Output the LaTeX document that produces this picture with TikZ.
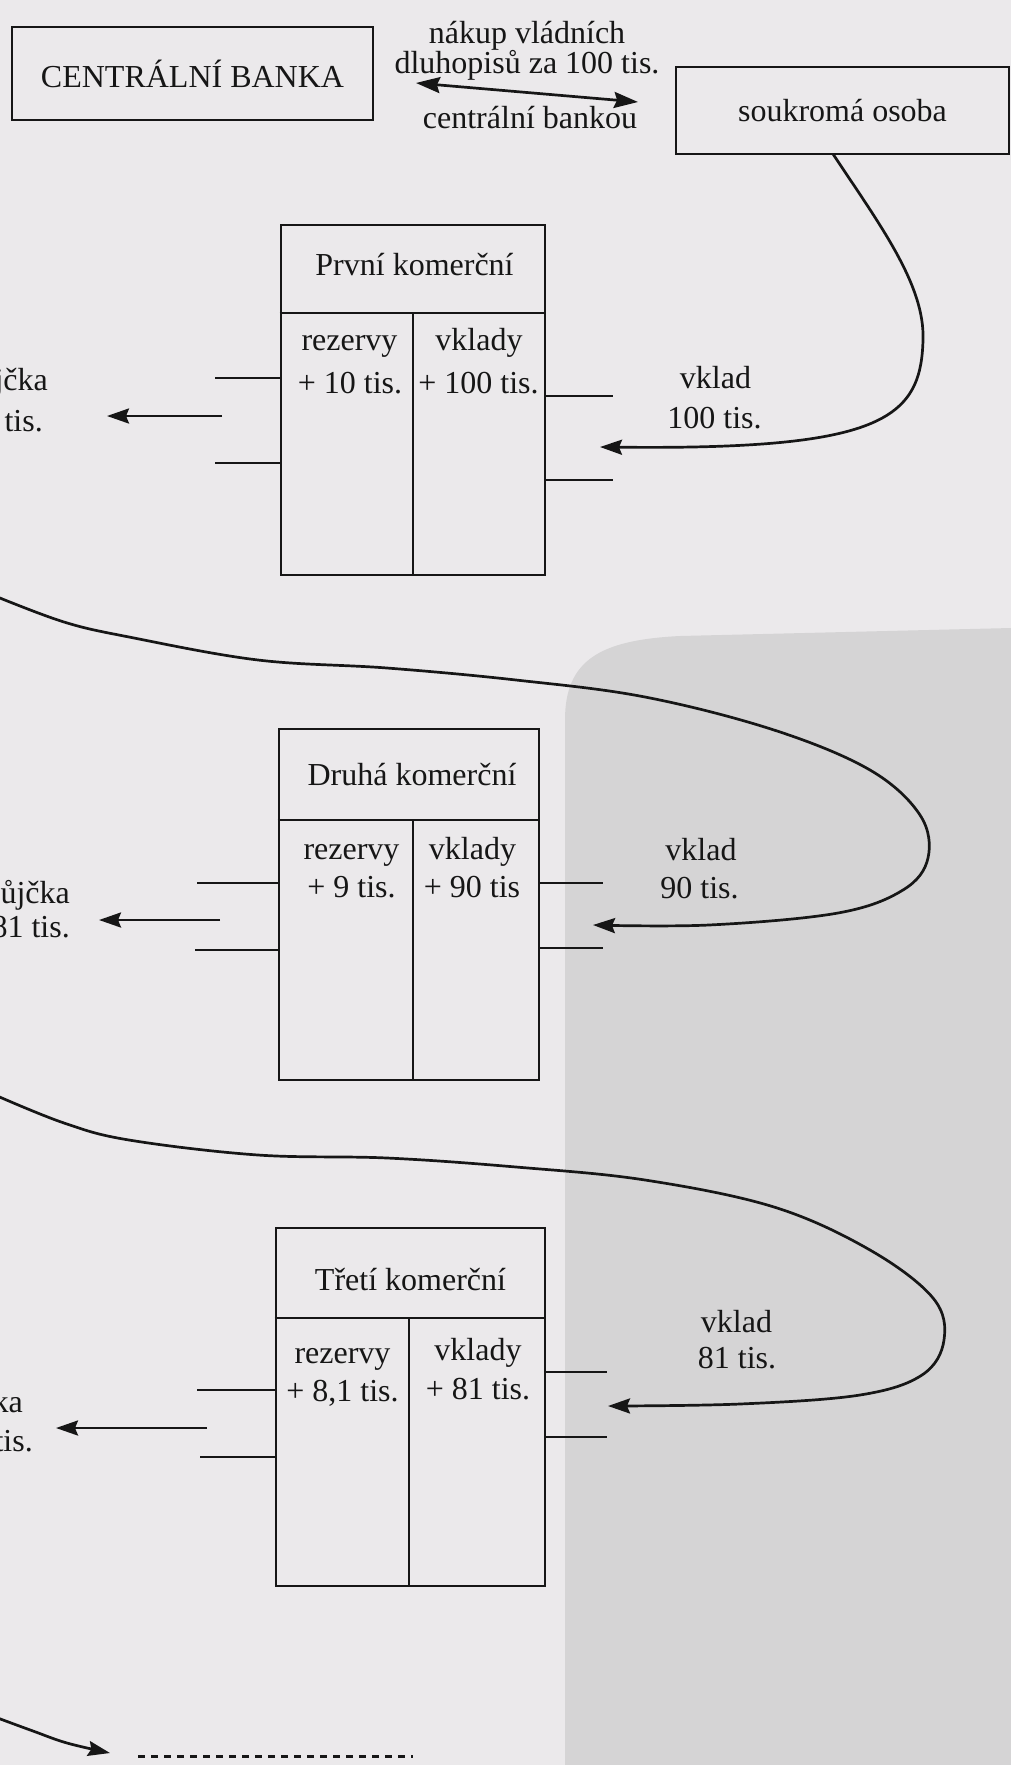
\documentclass[tikz,border=0pt]{standalone}
\usepackage{fontspec}
\setmainfont{Liberation Serif}
\usetikzlibrary{arrows.meta}
\definecolor{paper}{RGB}{235,233,235}
\definecolor{shadowc}{RGB}{213,212,213}
\definecolor{ink}{RGB}{22,22,22}
\begin{document}
\begin{tikzpicture}[x=1pt,y=-1pt,
  bankbox/.style={draw=ink,line width=2.8pt,rectangle,inner sep=0pt},
  boxline/.style={draw=ink,line width=2.8pt},
  lbl/.style={text=ink,inner sep=0pt,font=\fontsize{32}{40}\selectfont},
  tickln/.style={draw=ink,line width=2.7pt},
  arr/.style={draw=ink,line width=2.7pt,-{Stealth[length=22pt,width=15pt,inset=3pt]}},
  darr/.style={draw=ink,line width=2.7pt,{Stealth[length=24pt,width=16pt,inset=3pt]}-{Stealth[length=24pt,width=16pt,inset=3pt]}},
  dots/.style={draw=ink,line width=3pt,dash pattern=on 7pt off 6pt}
]
\useasboundingbox (0,0) rectangle (1011,1765);
\clip (0,0) rectangle (1011,1765);
\fill[paper] (0,0) rectangle (1011,1765);
\fill[shadowc] (565,1765) -- (565,720) .. controls (565,660) and (600,640) .. (680,636) -- (1011,628) -- (1011,1765) -- cycle;

% top row
\node[bankbox,lbl,minimum width=361pt,minimum height=93pt] (cb) at (192.5,73.5) {CENTRÁLNÍ BANKA};
\node[bankbox,lbl,minimum width=333pt,minimum height=87pt] (so) at (842.5,110.5) {soukromá osoba};
\node[lbl,anchor=base] (t1) at (527,43) {nákup vládních};
\node[lbl,anchor=base] (t2) at (527,73) {dluhopisů za 100 tis.};
\node[lbl,anchor=base] (t3) at (530,128) {centrální bankou};
\coordinate (da1) at (416,83);
\coordinate (da2) at (638,102);
\draw[darr] (da1) -- (da2);

% ---------- first bank ----------
\node[bankbox,minimum width=264pt,minimum height=350pt] (b1) at (413,400) {};
\coordinate (b1h) at (413,313);
\draw[boxline] (b1.west |- b1h) -- (b1.east |- b1h);
\draw[boxline] (b1h) -- (b1h |- b1.south);
\node[lbl,anchor=base] (n1) at (414.5,275) {První komerční};
\node[lbl,anchor=base] (r1a) at (349.5,350) {rezervy};
\node[lbl,anchor=base] (r1b) at (350,393) {+ 10 tis.};
\node[lbl,anchor=base] (v1a) at (479,350) {vklady};
\node[lbl,anchor=base] (v1b) at (478.5,393) {+ 100 tis.};
\coordinate (l1a) at (215,378);
\coordinate (l1b) at (215,463);
\draw[tickln] (l1a) -- (b1.west |- l1a);
\draw[tickln] (l1b) -- (b1.west |- l1b);
\coordinate (l1s) at (222,416);
\coordinate (l1e) at (107,416);
\draw[arr] (l1s) -- (l1e);
\coordinate (r1x) at (613,396);
\coordinate (r1y) at (613,480);
\draw[tickln] (b1.east |- r1x) -- (r1x);
\draw[tickln] (b1.east |- r1y) -- (r1y);
\node[lbl,anchor=base] (k1a) at (715.5,388) {vklad};
\node[lbl,anchor=base] (k1b) at (714.5,428) {100 tis.};
\node[lbl,anchor=base east] (p1a) at (48,390) {jčka};
\node[lbl,anchor=base east] (p1b) at (43,431) {tis.};
\coordinate (c1s) at (833,154);
\coordinate (c1m) at (923,340);
\coordinate (c1e) at (600,447);
\draw[arr] (c1s) .. controls (880,225) and (925,285) .. (c1m) .. controls (921,420) and (880,450) .. (c1e);

% ---------- second bank ----------
\node[bankbox,minimum width=260pt,minimum height=351pt] (b2) at (409,904.5) {};
\coordinate (b2h) at (413,820);
\draw[boxline] (b2.west |- b2h) -- (b2.east |- b2h);
\draw[boxline] (b2h) -- (b2h |- b2.south);
\node[lbl,anchor=base] (n2) at (412,785) {Druhá komerční};
\node[lbl,anchor=base] (r2a) at (351.5,859) {rezervy};
\node[lbl,anchor=base] (r2b) at (351.5,897) {+ 9 tis.};
\node[lbl,anchor=base] (v2a) at (472.5,859) {vklady};
\node[lbl,anchor=base] (v2b) at (472,897) {+ 90 tis};
\coordinate (l2a) at (197,883);
\coordinate (l2b) at (195,950);
\draw[tickln] (l2a) -- (b2.west |- l2a);
\draw[tickln] (l2b) -- (b2.west |- l2b);
\coordinate (l2s) at (220,920);
\coordinate (l2e) at (99,920);
\draw[arr] (l2s) -- (l2e);
\coordinate (r2x) at (603,883);
\coordinate (r2y) at (603,948);
\draw[tickln] (b2.east |- r2x) -- (r2x);
\draw[tickln] (b2.east |- r2y) -- (r2y);
\node[lbl,anchor=base] (k2a) at (701,860) {vklad};
\node[lbl,anchor=base] (k2b) at (699.5,898) {90 tis.};
\node[lbl,anchor=base east] (p2a) at (70,903) {půjčka};
\node[lbl,anchor=base east] (p2b) at (70,937) {81 tis.};
\coordinate (c2s) at (-5,596);
\coordinate (c2e) at (593,925);
\draw[arr] plot[smooth,tension=0.6] coordinates {(c2s) (64,622) (129,637) (258,660) (387,668) (516,680) (645,697) (774,730) (870,770) (920,815) (928,858) (903,890) (838,913) (709,925) (c2e)};

% ---------- third bank ----------
\node[bankbox,minimum width=269pt,minimum height=358pt] (b3) at (410.5,1407) {};
\coordinate (b3h) at (409,1318);
\draw[boxline] (b3.west |- b3h) -- (b3.east |- b3h);
\draw[boxline] (b3h) -- (b3h |- b3.south);
\node[lbl,anchor=base] (n3) at (410.5,1290) {Třetí komerční};
\node[lbl,anchor=base] (r3a) at (342.5,1363) {rezervy};
\node[lbl,anchor=base] (r3b) at (342.5,1401) {+ 8,1 tis.};
\node[lbl,anchor=base] (v3a) at (478,1360) {vklady};
\node[lbl,anchor=base] (v3b) at (478,1399) {+ 81 tis.};
\coordinate (l3a) at (197,1390);
\coordinate (l3b) at (200,1457);
\draw[tickln] (l3a) -- (b3.west |- l3a);
\draw[tickln] (l3b) -- (b3.west |- l3b);
\coordinate (l3s) at (207,1428);
\coordinate (l3e) at (56,1428);
\draw[arr] (l3s) -- (l3e);
\coordinate (r3x) at (607,1372);
\coordinate (r3y) at (607,1437);
\draw[tickln] (b3.east |- r3x) -- (r3x);
\draw[tickln] (b3.east |- r3y) -- (r3y);
\node[lbl,anchor=base] (k3a) at (736.5,1332) {vklad};
\node[lbl,anchor=base] (k3b) at (737,1368) {81 tis.};
\node[lbl,anchor=base east] (p3a) at (23,1412) {ka};
\node[lbl,anchor=base east] (p3b) at (33,1451) {tis.};
\coordinate (c3s) at (-5,1095);
\coordinate (c3e) at (608,1406);
\draw[arr] plot[smooth,tension=0.6] coordinates {(c3s) (64,1123) (129,1140) (258,1155) (387,1158) (516,1167) (645,1180) (774,1207) (870,1250) (933,1298) (944,1340) (922,1375) (860,1395) (740,1404) (c3e)};

% ---------- bottom ----------
\coordinate (c4s) at (-5,1717);
\coordinate (c4e) at (110,1753);
\draw[arr] plot[smooth,tension=0.6] coordinates {(c4s) (33,1731) (67,1743) (c4e)};
\coordinate (dl1) at (138,1756);
\coordinate (dl2) at (413,1756);
\draw[dots] (dl1) -- (dl2);
\end{tikzpicture}
\end{document}
